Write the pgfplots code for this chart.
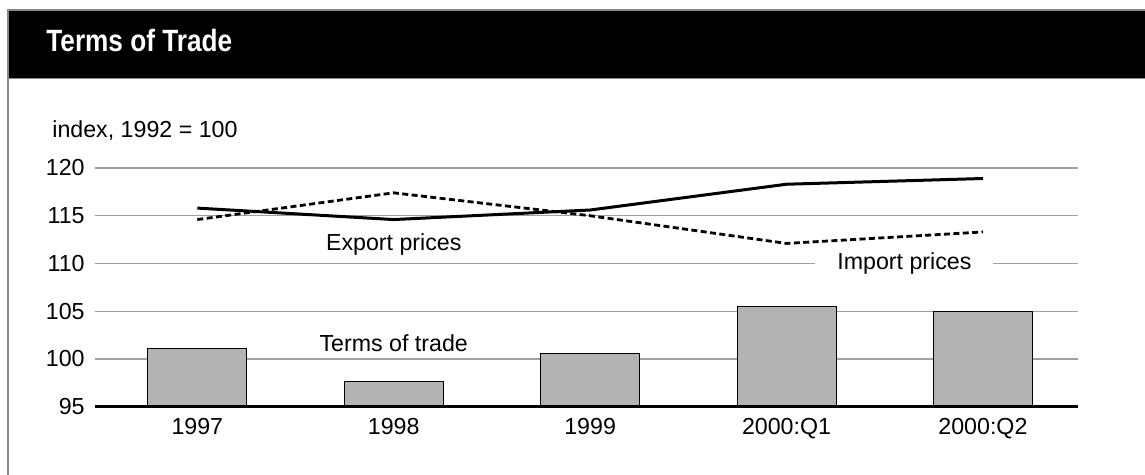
\documentclass[border=0pt]{standalone}
\usepackage{fontspec}
\setmainfont{Liberation Sans}
\newfontfamily\titlefont[FakeStretch=0.85]{Liberation Sans}
\usepackage{pgfplots}
\pgfplotsset{compat=1.18}
\definecolor{gridgray}{HTML}{A0A0A0}
\definecolor{framegray}{HTML}{888888}
\definecolor{bargray}{HTML}{B3B3B3}
\newcommand{\lbl}{\fontsize{11.6bp}{13bp}\selectfont}
\begin{document}
\begin{tikzpicture}
\useasboundingbox (0bp,0bp) rectangle (572.5bp,237.5bp);
% title bar and frame
\fill[black] (4bp,198bp) rectangle (572.5bp,232.5bp);
\draw[framegray, line width=0.75bp] (4bp,0bp) -- (4bp,232.5bp) -- (572.5bp,232.5bp);
\draw[framegray, line width=0.5bp] (4bp,198bp) -- (572.5bp,198bp);
\node[anchor=base west, inner sep=0pt, text=white] at (23bp,211.5bp)
  {\titlefont\bfseries\fontsize{15.4bp}{17bp}\selectfont Terms of Trade};
\node[anchor=base west, inner sep=0pt] at (26bp,168.5bp) {\lbl index, 1992 = 100};
\begin{axis}[
  at={(47.5bp,34.15bp)}, anchor=south west,
  scale only axis, width=491.5bp, height=119.35bp,
  xmin=-0.521, xmax=4.484, ymin=95, ymax=120,
  xtick={0,1,2,3,4},
  xticklabels={1997,1998,1999,2000:Q1,2000:Q2},
  ytick={95,100,105,110,115,120},
  ymajorgrids, grid style={gridgray, line width=0.6bp},
  major tick length=0pt,
  axis line style={draw=none},
  /pgf/number format/assume math mode=true,
  ticklabel style={font=\lbl},
  xticklabel style={anchor=north, inner sep=0pt, yshift=-5.5bp},
  yticklabel style={anchor=east, inner sep=0pt, xshift=-5bp},
]
\addplot[ybar, bar width=49.5bp, bar shift=0pt, fill=bargray, draw=black, line width=0.5bp]
  coordinates {(0,101.1) (1,97.6) (2,100.6) (3,105.5) (4,105.0)};
\addplot[black, line width=1.5bp, mark=none]
  coordinates {(0,115.8) (1,114.6) (2,115.6) (3,118.3) (4,118.9)};
\addplot[black, line width=1.4bp, mark=none, dash pattern=on 3bp off 1.7bp]
  coordinates {(0,114.6) (1,117.4) (2,115.0) (3,112.1) (4,113.3)};
\node[anchor=base, inner sep=0pt] at (axis cs:1,111.4) {\lbl Export prices};
\node[anchor=base, inner sep=0pt] at (axis cs:1,100.83) {\lbl Terms of trade};
\node[anchor=center, fill=white, inner xsep=11bp, inner ysep=2bp] at (axis cs:3.60,110) {\lbl Import prices};
\end{axis}
\draw[black, line width=1.7bp] (47.5bp,34.15bp) -- (539bp,34.15bp);
\end{tikzpicture}
\end{document}
